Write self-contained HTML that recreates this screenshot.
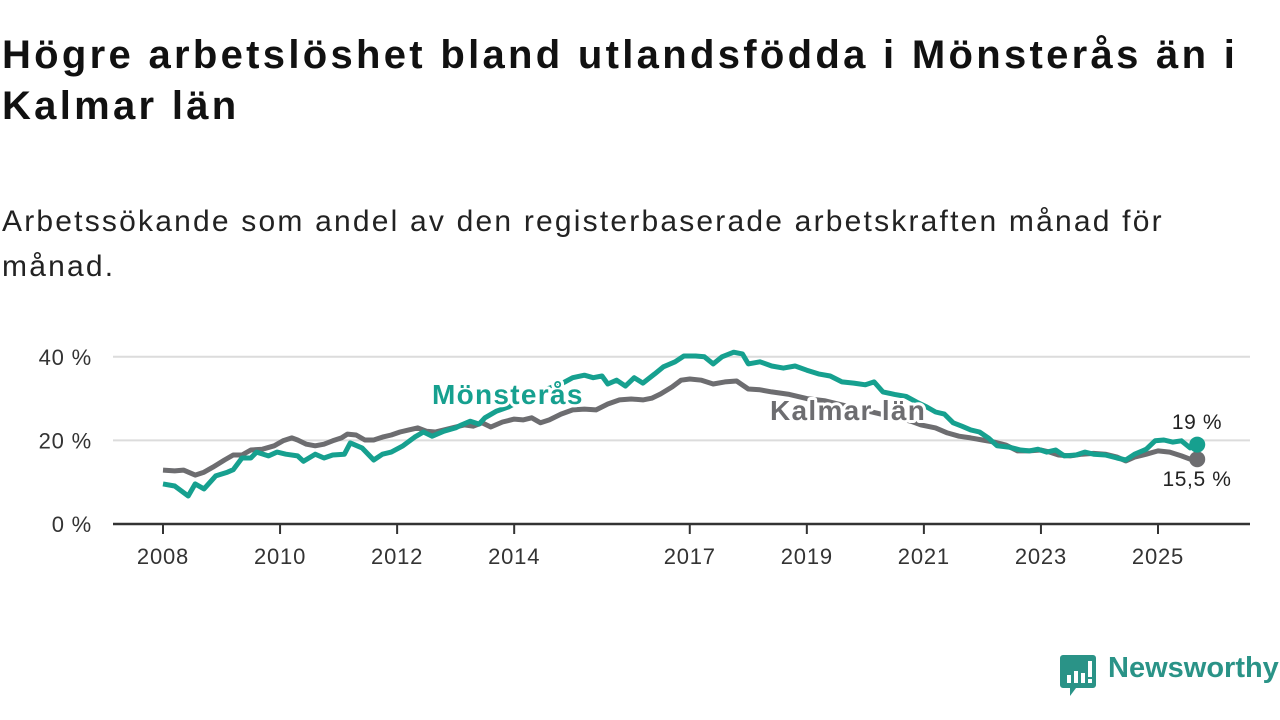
<!DOCTYPE html>
<html><head><meta charset="utf-8">
<style>
body{margin:0;width:1280px;height:720px;background:#fff;overflow:hidden;font-family:"Liberation Sans","DejaVu Sans",sans-serif;}
.title{position:absolute;left:2px;top:30px;font-size:40px;font-weight:bold;color:#111;line-height:51px;width:1278px;margin:0;letter-spacing:3.3px;white-space:nowrap;}
.sub{position:absolute;left:2px;top:199px;font-size:30px;color:#222;line-height:45px;width:1278px;margin:0;letter-spacing:2.2px;white-space:nowrap;}
svg{position:absolute;left:0;top:0;}
.logo{position:absolute;left:1060px;top:655px;}
.logotext{position:absolute;left:1108px;top:652px;font-size:29px;font-weight:bold;color:#2a9387;}
</style></head><body>
<h1 class="title">Högre arbetslöshet bland utlandsfödda i Mönsterås än i<br>Kalmar län</h1>
<p class="sub">Arbetssökande som andel av den registerbaserade arbetskraften månad för<br>månad.</p>
<svg id="chart" width="1280" height="720"></svg>
<svg class="logo" width="36" height="42" viewBox="0 0 36 42">
<path d="M3 0H33A3 3 0 0 1 36 3V30A3 3 0 0 1 33 33H16L10 41V33H3A3 3 0 0 1 0 30V3A3 3 0 0 1 3 0Z" fill="#2a9387"/>
<rect x="7" y="20" width="4" height="8" fill="#fff"/><rect x="14" y="16" width="4" height="12" fill="#fff"/><rect x="21" y="18" width="4" height="10" fill="#fff"/><rect x="28" y="6" width="4" height="16" fill="#fff"/><rect x="28" y="24" width="4" height="4" fill="#fff"/>
</svg>
<div class="logotext">Newsworthy</div>
<script>
const yTicks=[0,20,40];
const xTickYears=[2008,2010,2012,2014,2017,2019,2021,2023,2025];
const monsYears=[2008.0,2008.2,2008.43,2008.55,2008.7,2008.9,2009.1,2009.2,2009.35,2009.5,2009.6,2009.8,2009.95,2010.1,2010.3,2010.4,2010.6,2010.75,2010.9,2011.1,2011.2,2011.4,2011.6,2011.75,2011.9,2012.1,2012.3,2012.45,2012.6,2012.8,2013.0,2013.1,2013.25,2013.4,2013.5,2013.7,2013.9,2014.1,2014.3,2014.5,2014.7,2014.8,2015.0,2015.2,2015.35,2015.5,2015.6,2015.75,2015.9,2016.05,2016.2,2016.4,2016.55,2016.75,2016.9,2017.1,2017.25,2017.4,2017.55,2017.75,2017.9,2018.0,2018.2,2018.4,2018.6,2018.8,2019.0,2019.2,2019.4,2019.6,2019.8,2020.0,2020.15,2020.3,2020.5,2020.7,2020.9,2021.05,2021.2,2021.35,2021.5,2021.65,2021.8,2021.95,2022.1,2022.25,2022.45,2022.65,2022.8,2022.95,2023.1,2023.25,2023.4,2023.6,2023.75,2023.9,2024.1,2024.3,2024.45,2024.6,2024.8,2024.95,2025.1,2025.25,2025.4,2025.55,2025.67];
const monsValues=[9.6,9.1,6.7,9.6,8.4,11.5,12.4,13,15.8,15.8,17.2,16.3,17.2,16.7,16.3,15,16.7,15.8,16.5,16.7,19.4,18.2,15.3,16.7,17.2,18.7,20.8,22,21,22.2,23,23.7,24.6,23.9,25.4,27,28,29.5,30.5,32,33,33.5,35,35.6,35,35.4,33.5,34.4,33,35,33.7,35.9,37.6,38.8,40.2,40.2,40,38.3,40,41.1,40.7,38.3,38.8,37.8,37.3,37.8,36.8,35.9,35.4,34,33.7,33.3,34,31.6,31,30.5,29,28,26.8,26.3,24.2,23.4,22.5,22,20.6,18.7,18.4,17.7,17.5,17.9,17.2,17.7,16.3,16.5,17.2,16.7,16.5,15.8,15.3,16.7,17.9,19.9,20.1,19.6,19.9,18.2,19];
const kalYears=[2008.0,2008.2,2008.35,2008.55,2008.7,2008.85,2009.05,2009.2,2009.35,2009.5,2009.7,2009.9,2010.05,2010.2,2010.3,2010.45,2010.6,2010.75,2010.9,2011.05,2011.15,2011.3,2011.45,2011.6,2011.75,2011.9,2012.05,2012.2,2012.35,2012.5,2012.65,2012.8,2013.0,2013.15,2013.3,2013.45,2013.6,2013.8,2014.0,2014.15,2014.3,2014.45,2014.6,2014.8,2015.0,2015.2,2015.4,2015.6,2015.8,2016.0,2016.2,2016.35,2016.5,2016.7,2016.85,2017.0,2017.2,2017.4,2017.6,2017.8,2018.0,2018.2,2018.4,2018.7,2019.0,2019.3,2019.6,2019.9,2020.2,2020.5,2020.8,2020.95,2021.2,2021.4,2021.6,2021.8,2022.0,2022.2,2022.4,2022.6,2022.8,2023.0,2023.15,2023.3,2023.5,2023.7,2023.9,2024.1,2024.3,2024.45,2024.6,2024.8,2025.0,2025.2,2025.4,2025.55,2025.67];
const kalValues=[12.9,12.7,12.9,11.7,12.4,13.6,15.3,16.5,16.5,17.7,17.9,18.7,19.9,20.6,20.1,19.1,18.7,19.1,19.9,20.6,21.5,21.3,20.1,20.1,20.8,21.3,22,22.5,23,22.2,22,22.5,23.2,23.7,23.4,24.2,23.2,24.4,25.1,24.9,25.4,24.2,24.9,26.3,27.3,27.5,27.3,28.7,29.7,29.9,29.7,30.1,31.1,32.8,34.4,34.7,34.4,33.5,34,34.2,32.3,32.1,31.6,31,30,29.5,28.5,27.5,26.5,25.5,24.5,23.7,23,21.8,21,20.6,20.1,19.6,18.9,17.5,17.5,17.7,17.2,16.5,16.3,16.7,16.9,16.7,16,15.1,16,16.7,17.5,17.2,16.3,15.5,15.5];
const NS='http://www.w3.org/2000/svg';
const svg=document.getElementById('chart');
const X0=113,X1=1250;
function xs(y){return 163+(y-2008)*58.53;}
function ys(v){return 524-v*4.18;}
function mk(tag,attrs,parent){const e=document.createElementNS(NS,tag);for(const k in attrs)e.setAttribute(k,attrs[k]);(parent||svg).appendChild(e);return e;}
yTicks.forEach(t=>{
  if(t>0){const g=mk('line',{x1:X0,x2:X1,y1:ys(t),y2:ys(t),stroke:'#dcdcdc','stroke-width':2});
  
  }
  const l=mk('text',{x:92,y:ys(t)+8,'text-anchor':'end','font-size':22,'letter-spacing':'0.8',fill:'#333','font-family':'Liberation Sans, sans-serif'});
  l.textContent=t+' %';
  
  
});
const ax=mk('line',{x1:X0,x2:X1,y1:524,y2:524,stroke:'#333','stroke-width':2.5});


xTickYears.forEach(yr=>{
  const tk=mk('line',{x1:xs(yr),x2:xs(yr),y1:524,y2:534,stroke:'#333','stroke-width':2});
  
  
  const l=mk('text',{x:xs(yr),y:564,'text-anchor':'middle','font-size':22,'letter-spacing':'0.8',fill:'#333','font-family':'Liberation Sans, sans-serif'});
  l.textContent=yr;
  
  
});
function line(years,vals,color,name){
  const d=years.map((y,i)=>(i?'L':'M')+xs(y).toFixed(1)+' '+ys(vals[i]).toFixed(1)).join(' ');
  const p=mk('path',{d:d,fill:'none',stroke:color,'stroke-width':5,'stroke-linejoin':'round'});
  
  
  const n=years.length-1;
  const c=mk('circle',{cx:xs(years[n]),cy:ys(vals[n]),r:8,fill:color});
  
  
}
line(kalYears,kalValues,'#6d6d70','kalmar-lan-line');
line(monsYears,monsValues,'#16a08f','monsteras-line');
function lab(x,y,txt,color,name,size,weight,anchor,ls){
  const t=mk('text',{x:x,y:y,'font-size':size,'font-weight':weight,'letter-spacing':ls,fill:color,stroke:'#fff','stroke-width':6,'paint-order':'stroke','stroke-linejoin':'round','text-anchor':anchor||'start','font-family':'Liberation Sans, sans-serif'});
  t.textContent=txt;
  
  
}
lab(432,404,'Mönsterås','#16a08f','monsteras-label',28,'bold','start','1.3');
lab(770,420,'Kalmar län','#6d6d70','kalmar-lan-label',28,'bold','start','1.3');
lab(1197,429,'19 %','#222','monsteras-end-value',21,'normal','middle','0.6');
lab(1197,486,'15,5 %','#222','kalmar-end-value',21,'normal','middle','0.6');
</script>
</body></html>
